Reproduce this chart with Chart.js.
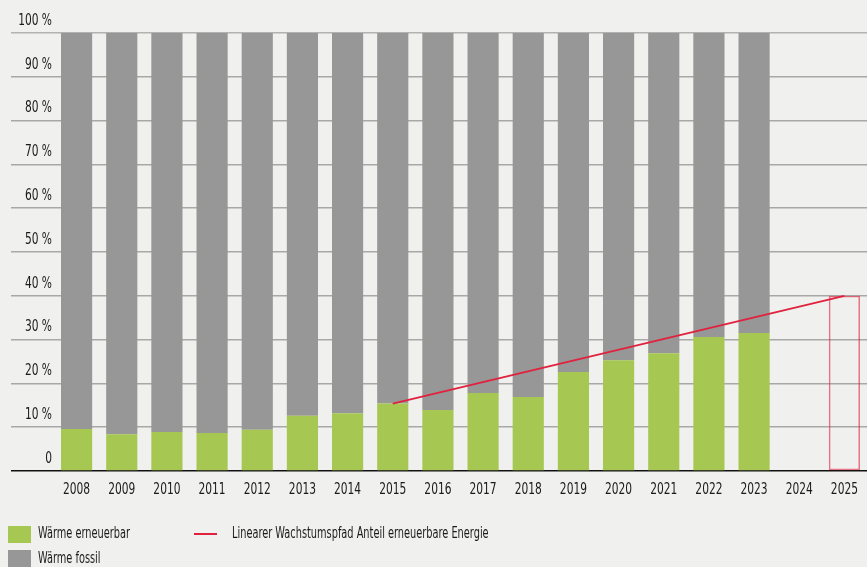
<!DOCTYPE html>
<html lang="de">
<head>
    <meta charset="UTF-8">
    <title>Wärme erneuerbar / fossil</title>
    <script src="https://cdn.jsdelivr.net/npm/chart.js"></script>
    <style>
        html, body {
            margin: 0;
            padding: 0;
            background-color: #f0f0ee;
            font-family: 'DejaVu Sans Condensed', 'Liberation Sans Narrow', 'Roboto', sans-serif;
            color: #1a1a1a;
        }
        .wrap {
            position: relative;
            width: 867px;
            height: 567px;
            overflow: hidden;
        }
        .legend-item {
            position: absolute;
            font-size: 16px;
            line-height: 18px;
            white-space: nowrap;
            transform: scaleX(0.68);
            transform-origin: left center;
        }
        .swatch {
            position: absolute;
        }
    </style>
</head>
<body>
    <div class="wrap">
        <canvas id="heatChart" width="867" height="567"></canvas>

        <div class="swatch" style="left:8px; top:526px; width:23px; height:17px; background:#a6c853;"></div>
        <div class="legend-item" style="left:38px; top:524px;">Wärme erneuerbar</div>
        <div class="swatch" style="left:8px; top:550px; width:23px; height:17px; background:#979797;"></div>
        <div class="legend-item" style="left:38px; top:549px;">Wärme fossil</div>
        <div class="swatch" style="left:194px; top:533px; width:23px; height:2px; background:#e0223e;"></div>
        <div class="legend-item" style="left:232px; top:524px;">Linearer Wachstumspfad Anteil erneuerbare Energie</div>
    </div>

    <script>
        const years = ["2008", "2009", "2010", "2011", "2012", "2013", "2014", "2015", "2016",
                       "2017", "2018", "2019", "2020", "2021", "2022", "2023", "2024", "2025"];
        // Anteil erneuerbar in %
        const renewable = [9.6, 8.4, 8.9, 8.7, 9.4, 12.6, 13.2, 15.4, 13.9,
                           17.8, 16.9, 22.6, 25.3, 26.9, 30.6, 31.5, null, null];
        // Anteil fossil in %
        const fossil = [90.4, 91.6, 91.1, 91.3, 90.6, 87.4, 86.8, 84.6, 86.1,
                        82.2, 83.1, 77.4, 74.7, 73.1, 69.4, 68.5, null, null];
        // Wachstumspfad: Start 2015, Ziel 2025
        const pathway = [null, null, null, null, null, null, null, 15.4, null,
                         null, null, null, null, null, null, null, null, 40];
        const target = [null, null, null, null, null, null, null, null, null,
                        null, null, null, null, null, null, null, null, 40];
        const yTicks = [0, 10, 20, 30, 40, 50, 60, 70, 80, 90, 100];

        const fontFamily = "'DejaVu Sans Condensed', 'Liberation Sans Narrow', 'Roboto', sans-serif";

        // the original uses a condensed face; squeeze canvas text a bit so widths match
        const condenseText = {
            id: 'condenseText',
            beforeDraw(chart) {
                const ctx = chart.ctx;
                if (ctx._condensed) return;
                const fill = ctx.fillText;
                ctx.fillText = function (text, x, y, maxWidth) {
                    const w = this.measureText(text).width * 0.79;
                    return fill.call(this, text, x, y, maxWidth !== undefined ? Math.min(maxWidth, w) : w);
                };
                ctx._condensed = true;
            }
        };

        new Chart(document.getElementById("heatChart"), {
            type: 'bar',
            data: {
                labels: years,
                datasets: [
                    {
                        type: 'line',
                        label: "Linearer Wachstumspfad Anteil erneuerbare Energie",
                        data: pathway,
                        borderColor: "#e0223e",
                        borderWidth: 1.8,
                        pointRadius: 0,
                        spanGaps: true,
                        fill: false,
                        stack: 'line',
                        order: 0
                    },
                    {
                        label: "Wärme erneuerbar",
                        data: renewable,
                        backgroundColor: "#a6c853",
                        stack: 'heat',
                        order: 1
                    },
                    {
                        label: "Wärme fossil",
                        data: fossil,
                        backgroundColor: "#979797",
                        stack: 'heat',
                        order: 1
                    },
                    {
                        label: "Ziel",
                        data: target,
                        backgroundColor: "rgba(0,0,0,0)",
                        borderColor: "rgba(224, 34, 62, 0.6)",
                        borderWidth: 1.5,
                        borderSkipped: false,
                        stack: 'heat',
                        order: 1
                    }
                ]
            },
            options: {
                responsive: false,
                animation: false,
                barPercentage: 0.69,
                categoryPercentage: 1,
                layout: {
                    padding: { left: 11, top: 33, right: 0, bottom: 58 }
                },
                plugins: {
                    legend: { display: false },
                    tooltip: { enabled: false }
                },
                scales: {
                    x: {
                        stacked: true,
                        afterFit: (scale) => {
                            scale.paddingLeft = 0;
                            scale.paddingRight = 0;
                        },
                        grid: { display: false, drawTicks: false },
                        border: { display: false },
                        ticks: {
                            color: "#1a1a1a",
                            padding: 10,
                            maxRotation: 0,
                            font: { family: fontFamily, size: 15 }
                        }
                    },
                    y: {
                        stacked: true,
                        min: 0,
                        max: 100,
                        afterBuildTicks: (scale) => {
                            scale.ticks = yTicks.map(v => ({ value: v }));
                        },
                        afterFit: (scale) => {
                            scale.width = 43;
                            scale.paddingTop = 0;
                            scale.paddingBottom = 0;
                        },
                        border: { display: false },
                        grid: {
                            tickLength: 43,
                            lineWidth: 1.5,
                            color: (ctx) => {
                                if (ctx.tick && ctx.tick.value === 0) return "#111111";
                                if (ctx.tick && ctx.tick.value === 100) return "#b2b2b2";
                                return "#a8a8a8";
                            }
                        },
                        ticks: {
                            color: "#1a1a1a",
                            padding: -41,
                            labelOffset: -12,
                            font: { family: fontFamily, size: 15 },
                            callback: (v) => v === 0 ? "0" : v + " %"
                        }
                    }
                }
            },
            plugins: [condenseText]
        });
    </script>
</body>
</html>
